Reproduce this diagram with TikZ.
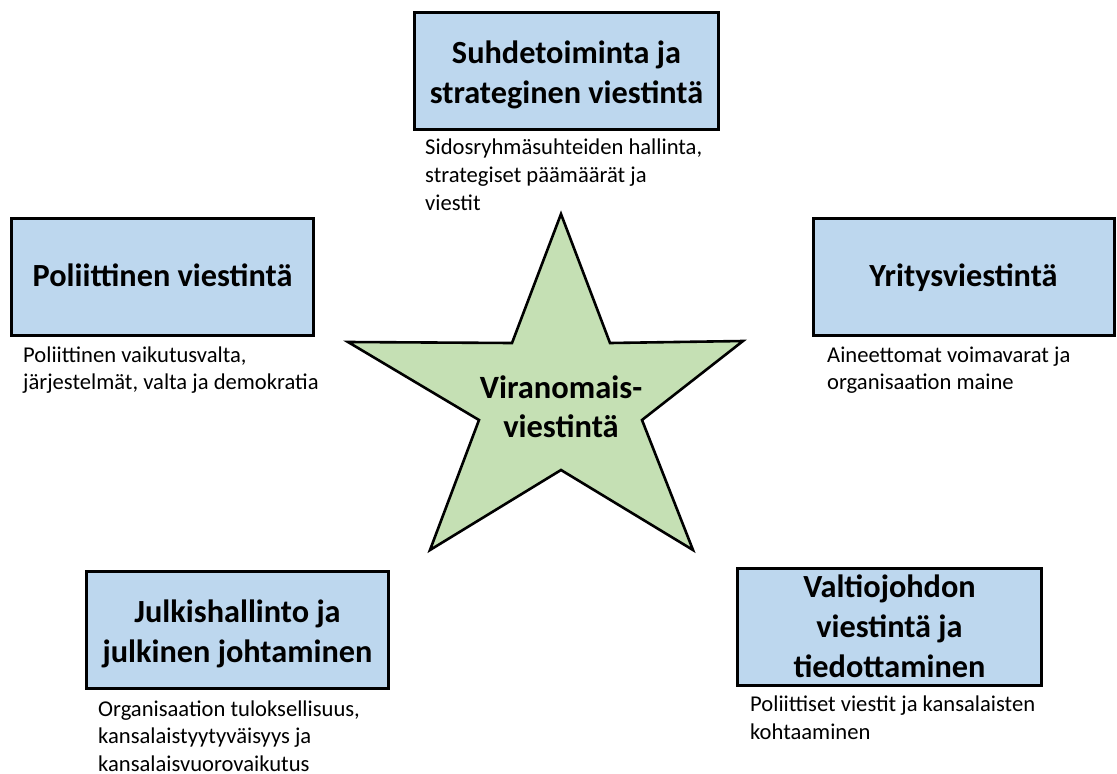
\documentclass[tikz,border=0pt]{standalone}
\usepackage{fontspec}
\setmainfont{Carlito}
\definecolor{boxblue}{HTML}{BDD7EE}
\definecolor{stargreen}{HTML}{C5E0B4}
\tikzset{
  topic/.style={draw=black, line width=3pt, fill=boxblue, inner sep=0pt},
  title/.style={anchor=base, align=center, inner sep=0pt,
    font=\fontsize{32.3}{40}\selectfont\bfseries},
  desc/.style={anchor=base west, align=left, inner sep=0pt,
    font=\fontsize{22.6}{27.6}\selectfont},
  starfill/.style={draw=black, line width=2.6pt, fill=stargreen, line join=miter},
}
\begin{document}
\begin{tikzpicture}[x=1pt,y=-1pt]
\useasboundingbox (0,0) rectangle (1117,774);
% boxes
\node[topic, minimum width=304pt, minimum height=117pt] (top) at (566.5,71) {};
\node[topic, minimum width=302pt, minimum height=116.5pt] (left) at (162.5,276.8) {};
\node[topic, minimum width=301pt, minimum height=117pt] (right) at (963.5,276.5) {};
\node[topic, minimum width=302pt, minimum height=117pt] (bl) at (237.5,630) {};
\node[topic, minimum width=304pt, minimum height=117.5pt] (br) at (889.5,626.8) {};
% titles (anchor base = baseline of last line)
\node[title] (toptxt) at (566.5,103) {Suhdetoiminta ja\\strateginen viestintä};
\node[title] (lefttxt) at (162.5,286) {Poliittinen viestintä};
\node[title] (righttxt) at (963.5,286) {Yritysviestintä};
\node[title] (bltxt) at (237.5,662.5) {Julkishallinto ja\\julkinen johtaminen};
\node[title] (brtxt) at (889.5,677) {Valtiojohdon\\viestintä ja\\tiedottaminen};
% descriptions
\node[desc] (dtop) at (425,210) {Sidosryhmäsuhteiden hallinta,\\strategiset päämäärät ja\\viestit};
\node[desc] (dleft) at (23,389.6) {Poliittinen vaikutusvalta,\\järjestelmät, valta ja demokratia};
\node[desc] (dright) at (827,389.6) {Aineettomat voimavarat ja\\organisaation maine};
\node[desc] (dbl) at (98,771.2) {Organisaation tuloksellisuus,\\kansalaistyytyväisyys ja\\kansalaisvuorovaikutus};
\node[desc] (dbr) at (750,739.1) {Poliittiset viestit ja kansalaisten\\kohtaaminen};
% star
\draw[starfill] (561,214) -- (610,343) -- (743,341) -- (642,420) -- (693,550) -- (561,470)
  -- (430,550) -- (479,420) -- (348,342) -- (512,343) -- cycle;
\node[title, font=\fontsize{32.5}{38.5}\selectfont\bfseries] (center) at (561,437) {Viranomais-\\viestintä};
\end{tikzpicture}
\end{document}
